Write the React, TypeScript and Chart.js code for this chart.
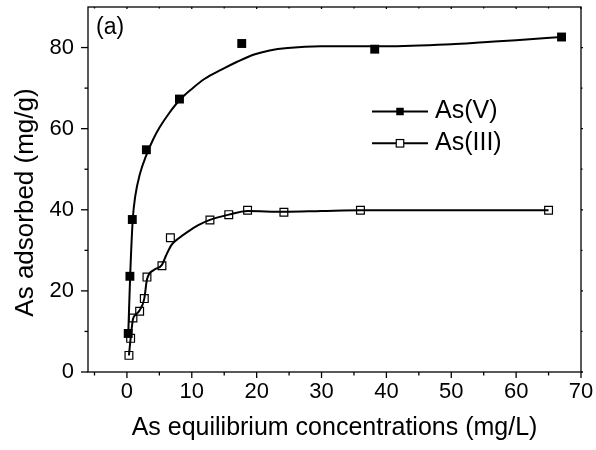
import React, { useEffect, useRef } from "react";
import { Chart, registerables } from "chart.js";

Chart.register(...registerables);

// Measured data (As(V) filled, As(III) open)
const asVX = [0.2, 0.46, 0.83, 3.0, 8.1, 17.7, 38.2, 67.0];
const asVY = [9.5, 23.6, 37.6, 54.8, 67.3, 81.0, 79.6, 82.6];

const asIIIX = [0.31, 0.57, 0.93, 1.96, 2.68, 3.09, 5.4, 6.7, 12.8, 15.7, 18.6, 24.2, 36.0, 65.0];
const asIIIY = [4.1, 8.3, 13.3, 15.0, 18.1, 23.4, 26.2, 33.1, 37.5, 38.8, 39.9, 39.4, 39.9, 39.9];

// Fitted curves
const fitVX = [0.2, 0.5, 0.9, 1.3, 2.0, 3.0, 4.0, 5.0, 6.5, 8.1, 10, 12, 14.5, 17, 19.6, 22, 24.8, 29.9, 35, 40, 45, 50, 55, 60, 67];
const fitVY = [9.0, 23.7, 37.6, 43.5, 48.8, 53.5, 57.2, 60.2, 63.8, 67.0, 69.8, 72.3, 74.5, 76.5, 78.3, 79.3, 79.9, 80.3, 80.3, 80.3, 80.5, 80.8, 81.3, 81.8, 82.6];

const fitIIIX = [0.31, 0.57, 0.93, 1.4, 1.96, 2.68, 3.09, 4.2, 5.4, 6.0, 6.9, 8.0, 9.3, 11.0, 12.8, 15.7, 18.6, 24.2, 30, 36, 45, 55, 65];
const fitIIIY = [4.1, 8.3, 13.0, 14.2, 15.2, 18.1, 22.8, 25.2, 26.4, 28.6, 31.4, 33.0, 34.5, 36.2, 37.5, 38.8, 39.7, 39.5, 39.7, 39.9, 39.9, 39.9, 39.9];

// Axis ticks
const xMajorTicks = [0, 10, 20, 30, 40, 50, 60, 70];
const xMinorTicks = [-5, 5, 15, 25, 35, 45, 55, 65];
const yMajorTicks = [0, 20, 40, 60, 80];
const yMinorTicks = [10, 30, 50, 70];

const xTitle = "As equilibrium concentrations (mg/L)";
const yTitle = "As adsorbed (mg/g)";
const legendV = "As(V)";
const legendIII = "As(III)";
const panelLabel = "(a)";

const FONT = "'Liberation Sans', Arial, sans-serif";

const toPts = (xs: number[], ys: number[]) => xs.map((x, i) => ({ x, y: ys[i] }));

const framePlugin = {
  id: "frame",
  afterDraw(chart: any) {
    const { ctx, chartArea: a, scales } = chart;
    const x = scales.x;
    const y = scales.y;
    ctx.save();
    ctx.strokeStyle = "#000";
    ctx.lineWidth = 1.3;
    ctx.strokeRect(a.left, a.top, a.right - a.left, a.bottom - a.top);
    const line = (x1: number, y1: number, x2: number, y2: number) => {
      ctx.beginPath();
      ctx.moveTo(x1, y1);
      ctx.lineTo(x2, y2);
      ctx.stroke();
    };
    xMajorTicks.forEach((v) => {
      const p = x.getPixelForValue(v);
      line(p, a.bottom, p, a.bottom + 6);
      line(p, a.top, p, a.top + 2);
    });
    xMinorTicks.forEach((v) => {
      const p = x.getPixelForValue(v);
      line(p, a.bottom, p, a.bottom + 3.5);
      line(p, a.top, p, a.top + 1.5);
    });
    yMajorTicks.forEach((v) => {
      const p = y.getPixelForValue(v);
      line(a.left, p, a.left - 7, p);
      line(a.right, p, a.right + 2, p);
    });
    yMinorTicks.forEach((v) => {
      const p = y.getPixelForValue(v);
      line(a.left, p, a.left - 3.5, p);
      line(a.right, p, a.right + 1.5, p);
    });

    // y-axis title (placed as in the reference, slightly below centre)
    ctx.save();
    ctx.fillStyle = "#000";
    ctx.font = `26px ${FONT}`;
    ctx.translate(a.left - 55, (a.top + a.bottom) / 2 + 13);
    ctx.rotate(-Math.PI / 2);
    ctx.textAlign = "center";
    ctx.textBaseline = "alphabetic";
    ctx.fillText(yTitle, 0, 0);
    ctx.restore();

    // panel label
    ctx.fillStyle = "#000";
    ctx.font = `23px ${FONT}`;
    ctx.textAlign = "left";
    ctx.textBaseline = "middle";
    ctx.fillText(panelLabel, a.left + 8, a.top + 20.5);

    // legend
    const drawEntry = (yy: number, filled: boolean, label: string) => {
      const x1 = a.left + 284;
      const x2 = a.left + 340;
      ctx.lineWidth = 2;
      line(x1, yy, x2, yy);
      const mx = (x1 + x2) / 2;
      const s = 7.5;
      ctx.lineWidth = 1.2;
      if (filled) {
        ctx.fillStyle = "#000";
        ctx.fillRect(mx - s / 2, yy - s / 2, s, s);
      } else {
        ctx.fillStyle = "#fff";
        ctx.fillRect(mx - s / 2, yy - s / 2, s, s);
        ctx.strokeRect(mx - s / 2, yy - s / 2, s, s);
      }
      ctx.fillStyle = "#000";
      ctx.font = `25px ${FONT}`;
      ctx.textAlign = "left";
      ctx.textBaseline = "middle";
      ctx.fillText(label, x2 + 7, yy);
    };
    drawEntry(a.top + 104.5, true, legendV);
    drawEntry(a.top + 136.3, false, legendIII);
    ctx.restore();
  },
};

export default function App() {
  const ref = useRef<HTMLCanvasElement>(null);
  useEffect(() => {
    if (!ref.current) return;
    const chart = new Chart(ref.current, {
      type: "scatter",
      data: {
        datasets: [
          {
            label: "fitV",
            data: toPts(fitVX, fitVY),
            showLine: true,
            borderColor: "#000",
            borderWidth: 2,
            pointRadius: 0,
            cubicInterpolationMode: "monotone",
          },
          {
            label: "fitIII",
            data: toPts(fitIIIX, fitIIIY),
            showLine: true,
            borderColor: "#000",
            borderWidth: 2,
            pointRadius: 0,
            cubicInterpolationMode: "monotone",
          },
          {
            label: legendV,
            data: toPts(asVX, asVY),
            showLine: false,
            pointStyle: "rect",
            pointRadius: 6.3,
            backgroundColor: "#000",
            borderColor: "#000",
            borderWidth: 0,
          },
          {
            label: legendIII,
            data: toPts(asIIIX, asIIIY),
            showLine: false,
            pointStyle: "rect",
            pointRadius: 5.5,
            backgroundColor: "#fff",
            borderColor: "#000",
            borderWidth: 1.2,
          },
        ],
      },
      options: {
        responsive: false,
        animation: false,
        devicePixelRatio: 1,
        layout: { padding: { left: 0, right: 15, top: 7, bottom: 0 } },
        plugins: { legend: { display: false }, tooltip: { enabled: false } },
        scales: {
          x: {
            type: "linear",
            min: -6,
            max: 70,
            grid: { display: false, drawTicks: false },
            border: { display: false },
            afterBuildTicks: (s: any) => {
              s.ticks = xMajorTicks.map((v) => ({ value: v }));
            },
            afterFit: (s: any) => {
              s.height = 78;
              s.paddingLeft = 0;
              s.paddingRight = 0;
            },
            ticks: {
              color: "#000",
              font: { family: FONT, size: 22 },
              padding: 6.5,
              maxRotation: 0,
              autoSkip: false,
            },
            title: {
              display: true,
              text: xTitle,
              color: "#000",
              font: { family: FONT, size: 25 },
              padding: { top: 0, bottom: 7 },
            },
          },
          y: {
            type: "linear",
            min: 0,
            max: 90,
            grid: { display: false, drawTicks: false },
            border: { display: false },
            afterBuildTicks: (s: any) => {
              s.ticks = yMajorTicks.map((v) => ({ value: v }));
            },
            afterFit: (s: any) => {
              s.width = 88;
              s.paddingTop = 0;
              s.paddingBottom = 0;
            },
            ticks: {
              color: "#000",
              font: { family: FONT, size: 22 },
              padding: 14,
              autoSkip: false,
            },
            title: { display: false },
          },
        },
      },
      plugins: [framePlugin],
    });
    return () => chart.destroy();
  }, []);
  return (
    <div style={{ position: "absolute", left: 0, top: 0, width: 596, height: 450, background: "#fff" }}>
      <canvas ref={ref} width={596} height={450} style={{ display: "block" }} />
    </div>
  );
}
